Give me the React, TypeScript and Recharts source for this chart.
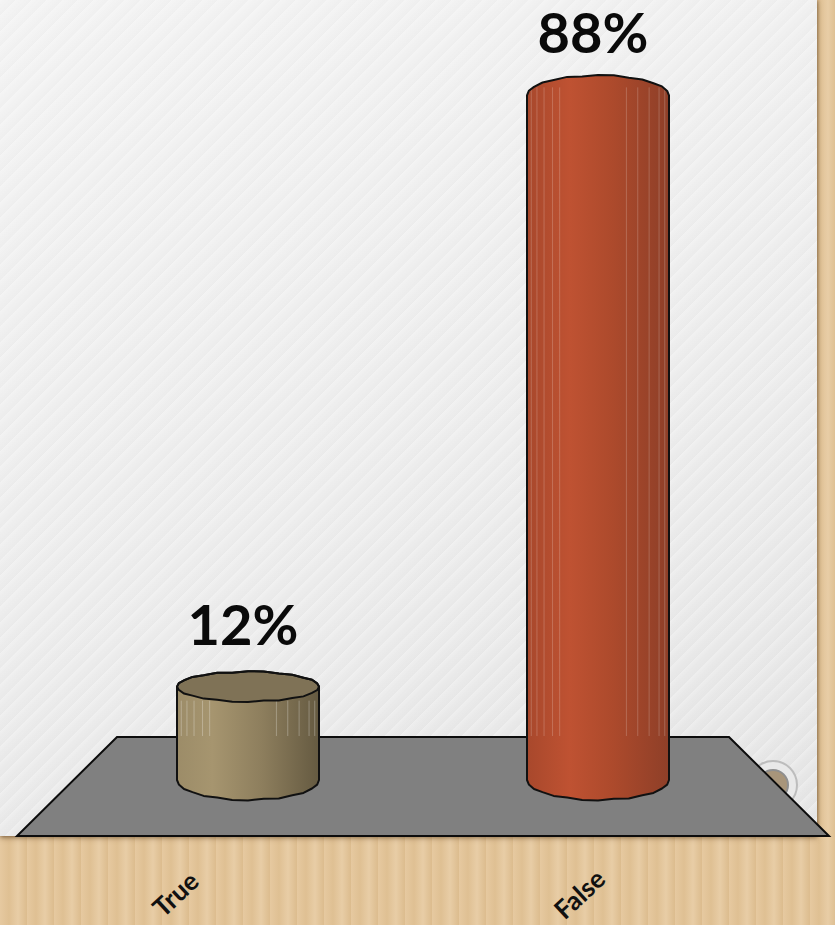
import { BarChart, Bar, XAxis, YAxis } from "recharts";

const categories = ["True", "False"];
const percents = [12, 88];

const chartData = categories.map((name, i) => ({ name, percent: percents[i] }));

const WIDTH = 835;
const HEIGHT = 925;
const RY = 15;

// wobble of the low-poly ellipse edge, same idea as the original 3d render
const wobble = [0, 0.6, -0.5, 0.7, -0.4, 0.5, -0.7, 0.4, 0.6, -0.5, 0.3, -0.6, 0.7, -0.3, 0.5, -0.6, 0.4, -0.4, 0.6, -0.5, 0.5, -0.7, 0.3, 0.6];
const ribs = [0.03, 0.07, 0.12, 0.18, 0.23, 0.7, 0.78, 0.86, 0.93, 0.97];

function ellipsePoints(cx: number, cy: number, rx: number, ry: number, from: number, to: number, n: number) {
  const pts: [number, number][] = [];
  for (let i = 0; i <= n; i++) {
    const a = from + ((to - from) * i) / n;
    const w = i === 0 || i === n ? 0 : wobble[i % wobble.length];
    pts.push([cx + rx * Math.cos(a), cy + (ry + w) * Math.sin(a)]);
  }
  return pts;
}

const toPath = (pts: [number, number][]) => pts.map((p) => `${p[0].toFixed(1)},${p[1].toFixed(1)}`).join(" L ");

function Cylinder(props: any) {
  const { x, y, width, height, index } = props;
  const cx = x + width / 2;
  const rx = width / 2;
  const base = y + height;
  const isTrue = index === 0;
  const topEdge = ellipsePoints(cx, y, rx, RY + (isTrue ? 0 : 5), Math.PI, 2 * Math.PI, 14);
  const bottomEdge = ellipsePoints(cx, base, rx, 20, 0, Math.PI, 14);
  const body = `M ${toPath(topEdge)} L ${toPath(bottomEdge)} Z`;
  const lidFront = ellipsePoints(cx, y, rx, RY, 0, Math.PI, 14);
  const lid = `M ${toPath(topEdge)} L ${toPath(lidFront)} Z`;
  const ribTop = isTrue ? y + 14 : y - 8;
  return (
    <g>
      <path d={body} fill={`url(#${isTrue ? "tan" : "rust"})`} stroke="none" />
      {ribs.map((r) => (
        <line
          key={r}
          x1={x + width * r}
          x2={x + width * r}
          y1={ribTop}
          y2={736}
          stroke="#fff"
          strokeOpacity={isTrue ? 0.28 : 0.2}
          strokeWidth={1}
        />
      ))}
      {isTrue && <path d={lid} fill="#7f7256" stroke="#111" strokeWidth={2} />}
      <path d={body} fill="none" stroke="#111" strokeWidth={2} strokeLinejoin="round" />
    </g>
  );
}

function PercentLabel(props: any) {
  const { x, y, width, value } = props;
  return (
    <text
      x={x + width / 2 - 5}
      y={y - 42}
      textAnchor="middle"
      fontFamily="Lato"
      fontWeight={700}
      fontSize={56}
      fill="#0a0a0a"
    >
      {`${value}%`}
    </text>
  );
}

function CategoryTick(props: any) {
  const { x, y, payload, index } = props;
  const dx = index === 0 ? -66 : -12;
  return (
    <text
      x={x + dx}
      y={y + 113}
      transform={`rotate(-43 ${x + dx} ${y + 113})`}
      textAnchor="middle"
      fontFamily="Lato"
      fontWeight={700}
      fontSize={26}
      fill="#111"
    >
      {payload.value}
    </text>
  );
}

function Backdrop() {
  return (
    <div
      style={{
        position: "absolute",
        left: 0,
        top: 0,
        width: WIDTH,
        height: HEIGHT,
        background: "repeating-linear-gradient(90deg, #e6c9a0 0px, #dfc093 9px, #e8cda6 18px, #dcbc8e 27px)",
      }}
    >
      <div
        style={{
          position: "absolute",
          left: 0,
          top: 0,
          width: 817,
          height: 836,
          background:
            "repeating-linear-gradient(135deg, rgba(255,255,255,0.25) 0px, rgba(255,255,255,0) 5px, rgba(0,0,0,0.012) 11px), linear-gradient(160deg, #f3f3f3 0%, #ededed 55%, #e6e6e6 100%)",
          boxShadow: "0 2px 5px rgba(90,60,30,0.55), 1px 0 3px rgba(90,60,30,0.4)",
        }}
      />
      <svg width={WIDTH} height={HEIGHT} style={{ position: "absolute", left: 0, top: 0 }}>
        <circle cx={773} cy={785} r={24} fill="#e9e9e9" stroke="#bdbdbd" strokeWidth={2} />
        <circle cx={773} cy={785} r={15} fill="#a8957a" stroke="#8f8f8f" strokeWidth={2} />
        <polygon points="117,737 729,737 829,836 17,836" fill="#808080" stroke="#0c0c0c" strokeWidth={2} />
      </svg>
    </div>
  );
}

export default function App() {
  return (
    <div style={{ position: "absolute", left: 0, top: 0, width: WIDTH, height: HEIGHT, overflow: "hidden" }}>
      <Backdrop />
      <div style={{ position: "absolute", left: 0, top: 0 }}>
        <BarChart
          width={WIDTH}
          height={HEIGHT}
          data={chartData}
          margin={{ top: 2, right: 62, bottom: 0, left: 73 }}
        >
          <defs>
            <linearGradient id="tan" x1="0" x2="1" y1="0" y2="0">
              <stop offset="0" stopColor="#9c8c68" />
              <stop offset="0.25" stopColor="#a6956f" />
              <stop offset="0.6" stopColor="#8d7e5d" />
              <stop offset="1" stopColor="#655a41" />
            </linearGradient>
            <linearGradient id="rust" x1="0" x2="1" y1="0" y2="0">
              <stop offset="0" stopColor="#a8482c" />
              <stop offset="0.3" stopColor="#bf5232" />
              <stop offset="0.6" stopColor="#ad4a2c" />
              <stop offset="1" stopColor="#8e3f28" />
            </linearGradient>
          </defs>
          <XAxis
            dataKey="name"
            height={145}
            axisLine={false}
            tickLine={false}
            interval={0}
            tick={CategoryTick}
          />
          <YAxis hide domain={[0, 100]} />
          <Bar
            dataKey="percent"
            barSize={142}
            isAnimationActive={false}
            shape={Cylinder}
            label={PercentLabel}
          />
        </BarChart>
      </div>
    </div>
  );
}
